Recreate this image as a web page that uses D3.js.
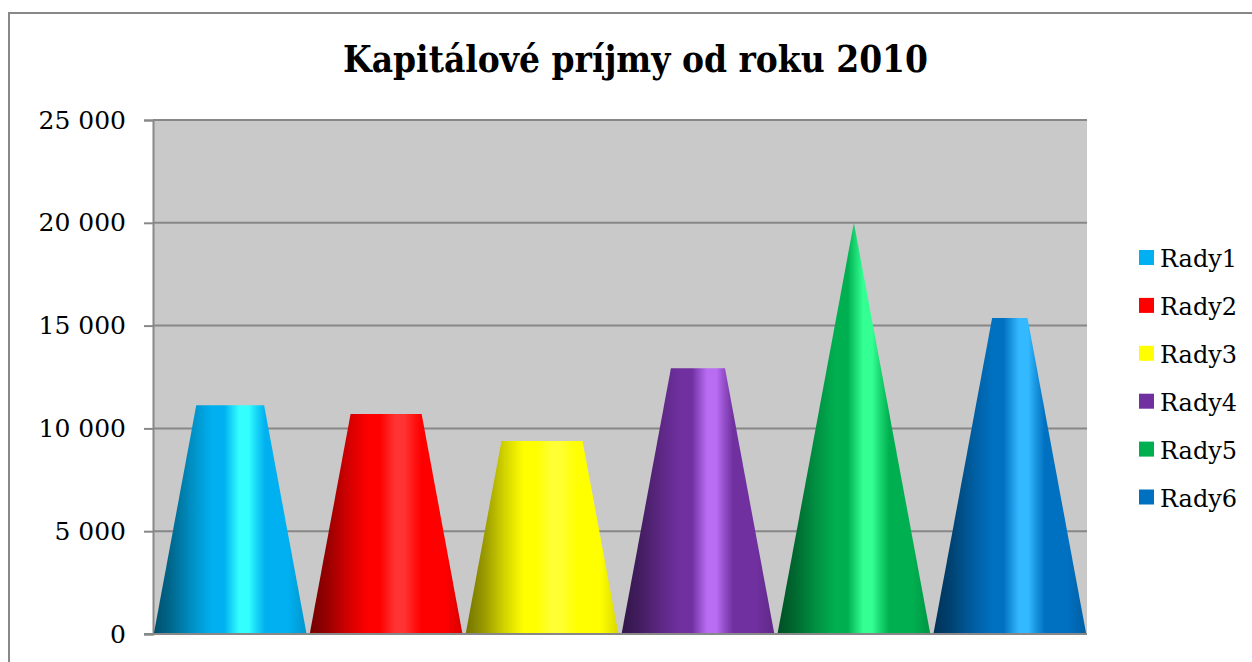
<!DOCTYPE html>
<html>
<head>
<meta charset="utf-8">
<script src="https://cdn.jsdelivr.net/npm/d3@7"></script>
<style>
  html, body { margin: 0; padding: 0; background: #fff; }
  svg { display: block; }
  svg text { font-family: "DejaVu Serif", serif; }
</style>
</head>
<body>
<svg id="chart" width="1252" height="662"></svg>
<script>
// data
const series = ["Rady1", "Rady2", "Rady3", "Rady4", "Rady5", "Rady6"];
const values = [11120, 10700, 9390, 12920, 20000, 15370];
const colors = ["#00b0f0", "#ff0000", "#ffff00", "#7030a0", "#00b050", "#0070c0"];
const yTicks = [0, 5000, 10000, 15000, 20000, 25000];
const title = "Kapitálové príjmy od roku 2010";

const margin = {top: 120, left: 153, right: 165, bottom: 28},
  width = 1252,
  height = 662;

const svg = d3.select("#chart");
const defs = svg.append("defs");

// outer chart border (left and top only visible)
svg.append("path")
  .attr("d", "M9,662V13H1252")
  .attr("fill", "none")
  .attr("stroke", "#888")
  .attr("stroke-width", 2);

svg.append("text")
  .attr("x", 343)
  .attr("y", 72)
  .attr("textLength", 585)
  .attr("lengthAdjust", "spacingAndGlyphs")
  .style("font-size", "37px")
  .style("font-weight", "bold")
  .text(title);

const x = d3.scaleBand()
  .domain(series)
  .range([margin.left, width - margin.right])
  .paddingInner(0.02)
  .paddingOuter(0.005);

const y = d3.scaleLinear()
  .domain([0, 25000])
  .range([height - margin.bottom, margin.top]);

// plot background
svg.append("rect")
  .attr("x", x.range()[0])
  .attr("y", y(25000))
  .attr("width", x.range()[1] - x.range()[0])
  .attr("height", y(0) - y(25000))
  .attr("fill", "#c9c9c9");

// gridlines
svg.append("g")
  .selectAll("line")
  .data(yTicks.slice(1))
  .join("line")
  .attr("x1", x.range()[0])
  .attr("x2", x.range()[1])
  .attr("y1", d => y(d))
  .attr("y2", d => y(d))
  .attr("stroke", "#878787")
  .attr("stroke-width", 2);

// y axis
const yAxis = d3.axisLeft(y)
  .tickValues(yTicks)
  .tickSize(9)
  .tickPadding(18)
  .tickFormat(d => d3.format(",")(d).replace(/,/g, " "));

const gy = svg.append("g")
  .attr("transform", `translate(${x.range()[0]},0)`)
  .call(yAxis)
  .attr("font-family", null);
gy.select(".domain").attr("stroke", "#888").attr("stroke-width", 2);
gy.selectAll(".tick line").attr("stroke", "#888").attr("stroke-width", 2);
gy.selectAll(".tick text")
  .style("font-size", "25px")
  .attr("fill", "#000");

// cone shading across the surface (0 = left edge, 1 = right edge)
const shadeStops = base => {
  const c = d3.rgb(base);
  const hi = d3.rgb(Math.min(255, c.r * 1.2 + 51), Math.min(255, c.g * 1.2 + 51), Math.min(255, c.b * 1.2 + 51)).formatHex();
  const dk = t => d3.interpolateRgb(base, "#000")(t);
  const soft = d3.interpolateRgb(base, hi)(0.5);
  return [
    [0, dk(0.55)], [0.12, dk(0.4)], [0.25, dk(0.18)], [0.38, base],
    [0.46, base], [0.51, soft], [0.56, hi], [0.62, hi], [0.67, soft], [0.73, base], [0.88, base], [1, dk(0.15)]
  ];
};

const maxVal = d3.max(values);

series.forEach((s, i) => {
  const grad = defs.append("linearGradient")
    .attr("id", "cone" + i)
    .attr("x1", 0).attr("x2", 1).attr("y1", 0).attr("y2", 0);
  grad.selectAll("stop")
    .data(shadeStops(colors[i]))
    .join("stop")
    .attr("offset", d => d[0])
    .attr("stop-color", d => d[1]);
});

svg.append("g")
  .selectAll("path")
  .data(series)
  .join("path")
  .attr("d", (s, i) => {
    const v = values[i];
    const x0 = x(s), bw = x.bandwidth();
    const topHalf = bw / 2 * (1 - v / maxVal);
    const cx = x0 + bw / 2;
    return `M${x0},${y(0)}L${cx - topHalf},${y(v)}L${cx + topHalf},${y(v)}L${x0 + bw},${y(0)}Z`;
  })
  .attr("fill", (s, i) => `url(#cone${i})`);

// bottom axis line
svg.append("line")
  .attr("x1", x.range()[0] - 9)
  .attr("x2", x.range()[1])
  .attr("y1", y(0))
  .attr("y2", y(0))
  .attr("stroke", "#888")
  .attr("stroke-width", 2);

// legend
const legend = svg.append("g")
  .attr("transform", "translate(1139,258)")
  .selectAll("g")
  .data(series)
  .join("g")
  .attr("transform", (d, i) => `translate(0,${i * 47.9})`);

legend.append("rect")
  .attr("x", 0)
  .attr("y", -8)
  .attr("width", 15)
  .attr("height", 15)
  .attr("fill", (d, i) => colors[i]);

legend.append("text")
  .attr("x", 21)
  .attr("y", 9)
  .style("font-size", "24px")
  .text(d => d);
</script>
</body>
</html>
